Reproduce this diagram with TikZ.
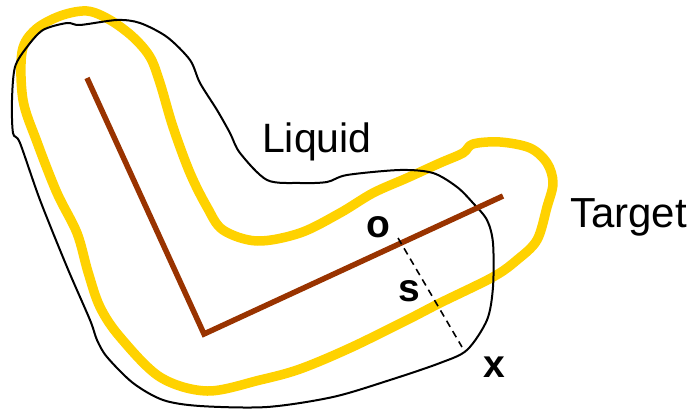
\documentclass[tikz,border=0pt]{standalone}
\usepackage{fontspec}
\setmainfont{Liberation Sans}
\begin{document}
\begin{tikzpicture}[x=1pt,y=-1pt,
  target/.style={draw={rgb,255:red,255;green,210;blue,0},line width=9.5pt,line join=round},
  liquid/.style={draw=black,line width=2pt,line join=round},
  skel/.style={draw={rgb,255:red,153;green,51;blue,0},line width=5.5pt},
  depth/.style={draw=black,line width=1.6pt,dash pattern=on 7pt off 5pt},
  lbl/.style={font=\fontsize{41}{44}\selectfont,inner sep=0pt,anchor=base west},
  var/.style={font=\fontsize{39}{42}\selectfont\bfseries,inner sep=0pt,anchor=base}]
\useasboundingbox (0,0) rectangle (696,409);
% target outline
\draw[target] plot[smooth cycle,tension=0.55] coordinates {
 (87,11) (60,16) (35,30) (22,52) (23,100) (37,142) (57,193) (77,233) (88,272)
 (100,307) (120,337) (160,377) (207,391) (260,380) (300,369) (350,348) (407,320)
 (440,303) (493,277) (517,260) (537,240) (547,207) (553,183) (547,163) (530,148)
 (500,142) (473,144) (463,153) (440,163) (407,178) (373,193) (340,213) (300,233)
 (257,241) (223,230) (207,207) (190,173) (173,127) (160,83) (150,57) (133,37) (110,20)};
% liquid outline
\draw[liquid] plot[smooth cycle,tension=0.5] coordinates {
 (67,23) (80,25) (117,20) (140,23) (167,37) (190,60) (200,83) (217,110) (230,133)
 (240,153) (267,180) (300,183) (327,182) (347,175) (400,170) (433,173) (457,187)
 (473,203) (487,220) (493,243) (493,287) (487,320) (467,350) (440,363) (390,380)
 (333,397) (267,407) (200,406) (163,400) (133,383) (107,357) (97,340) (90,320)
 (67,267) (40,200) (20,143) (13,133) (12,100) (15,67) (27,47) (43,30)};
% skeleton
\coordinate (s1) at (87,78);
\coordinate (s2) at (204,334);
\coordinate (s3) at (503,196);
\draw[skel,line join=miter] (s1) -- (s2) -- (s3);
% depth line
\coordinate (po) at (398,238);
\coordinate (px) at (462,347);
\draw[depth] (po) -- (px);
% labels
\node[lbl] (liquid) at (262,153) {Liquid};
\node[lbl,font=\fontsize{42}{46}\selectfont] (target) at (570,227) {Target};
\node[var] (o) at (378,237) {o};
\node[var] (s) at (409,301) {s};
\node[var] (x) at (494,377) {x};
\end{tikzpicture}
\end{document}
